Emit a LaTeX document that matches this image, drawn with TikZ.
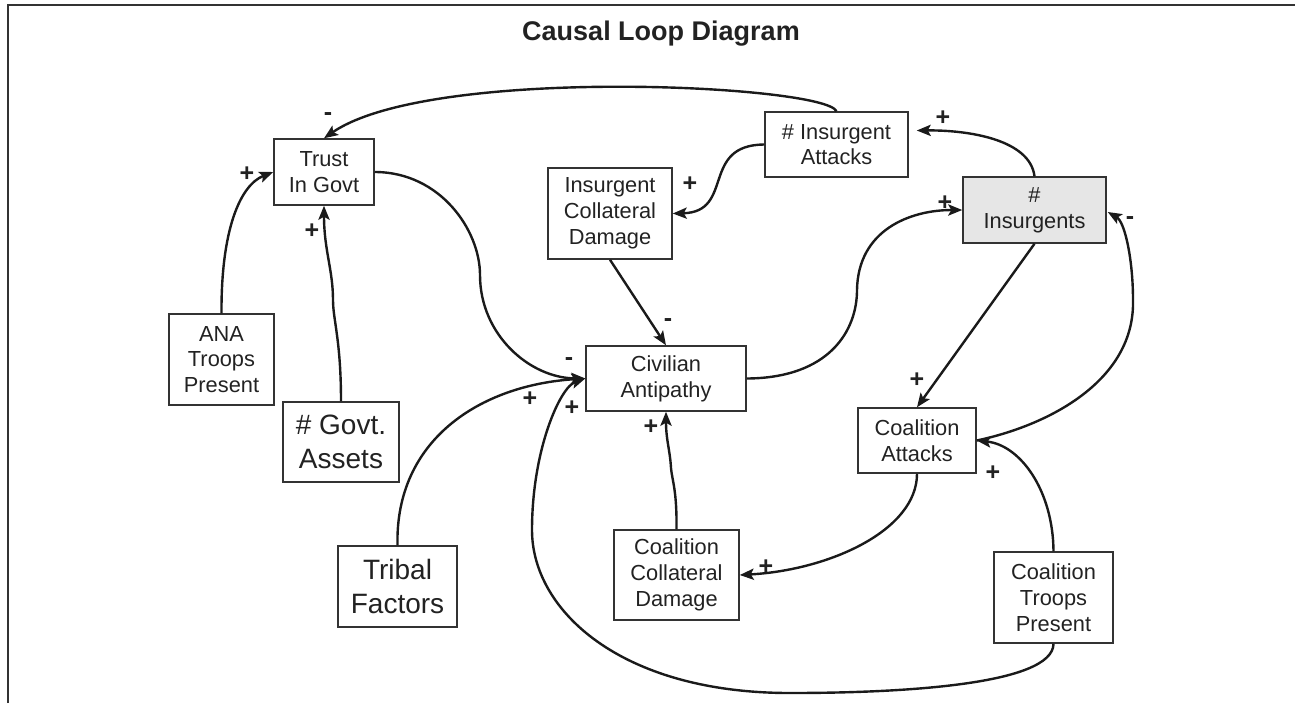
\documentclass[tikz,border=0pt]{standalone}
\usepackage{fontspec}
\setmainfont{Liberation Sans}
\usetikzlibrary{arrows.meta}
\definecolor{linec}{HTML}{1A1A1A}
\definecolor{boxc}{HTML}{333333}
\definecolor{txt}{HTML}{222222}
\definecolor{insfill}{HTML}{E6E6E6}
\tikzset{
  box/.style={draw=boxc, line width=0.75pt, rectangle, inner sep=0pt, align=center,
    font=\fontsize{10.9}{12.9}\selectfont, text=txt},
  bigbox/.style={box, font=\fontsize{14}{16.8}\selectfont},
  arr/.style={line width=1.2pt, draw=linec, -{Stealth[length=7pt,width=5.6pt,inset=1.5pt]}},
  pol/.style={font=\fontsize{12.5}{12.5}\selectfont\bfseries, text=txt, inner sep=0pt},
  frame/.style={draw=boxc, line width=1pt}
}
\begin{document}
\begin{tikzpicture}[x=0.5pt,y=-0.5pt]
\useasboundingbox (0,0) rectangle (1295,703);
% frame
\coordinate (fb) at (8,703);
\coordinate (ftl) at (8,5);
\coordinate (fr) at (1295,5);
\draw[frame] (fb) -- (ftl) -- (fr);
% title
\node[font=\fontsize{13.5}{16}\selectfont\bfseries, text=txt] (title) at (661,34) {Causal Loop Diagram};
% nodes
\node[box, minimum width=50pt, minimum height=33pt] (trust) at (324,172) {Trust\\In Govt};
\node[box, minimum width=52.5pt, minimum height=45.5pt] (ana) at (221.5,359.5) {ANA\\Troops\\Present};
\node[bigbox, minimum width=58pt, minimum height=40pt] (gov) at (341,442) {\# Govt.\\Assets};
\node[box, minimum width=62pt, minimum height=45.5pt] (icd) at (610,213.5) {Insurgent\\Collateral\\Damage};
\node[box, minimum width=71.5pt, minimum height=32.5pt] (ia) at (836.5,144.5) {\# Insurgent\\Attacks};
\node[box, minimum width=80pt, minimum height=32.5pt] (ca) at (666,378.5) {Civilian\\Antipathy};
\node[box, fill=insfill, minimum width=71.5pt, minimum height=33pt] (ins) at (1034.5,210) {\#\\Insurgents};
\node[box, minimum width=59pt, minimum height=32.5pt] (coa) at (917,440.5) {Coalition\\Attacks};
\node[bigbox, minimum width=59.5pt, minimum height=40.5pt] (trib) at (397.5,586.5) {Tribal\\Factors};
\node[box, minimum width=62.5pt, minimum height=45pt] (ccd) at (676.5,575) {Coalition\\Collateral\\Damage};
\node[box, minimum width=59.5pt, minimum height=45.5pt] (ctp) at (1053.5,597.5) {Coalition\\Troops\\Present};
% connectors
\draw[arr] (ia.north) .. controls (825,85) and (430,65) .. (trust.north);
\draw[arr] (ana.north) .. controls (221,230) and (240,185) .. (trust.west);
\draw[arr] (gov.north) .. controls (341,340) and (333,320) .. (333,300) .. controls (333,270) and (324,250) .. (trust.south);
\draw[arr] (ia.west) .. controls (700,145) and (735,212) .. (icd.east);
\draw[arr] (icd.south) -- (ca.north);
\draw[arr] (trust.east) .. controls (440,172) and (480,230) .. (480,275) .. controls (480,335) and (530,378) .. (ca.west);
\draw[arr] (trib.north) .. controls (395,440) and (480,385) .. (ca.west);
\draw[arr] (ctp.south) .. controls (1053,685) and (900,693) .. (790,693) .. controls (620,693) and (532,610) .. (532,530) .. controls (532,450) and (560,387) .. (ca.west);
\draw[arr] (ccd.north) .. controls (677,490) and (672,480) .. (671,468) .. controls (670,450) and (666,440) .. (ca.south);
\draw[arr] (ca.east) .. controls (830,378) and (857,330) .. (857,290) .. controls (858,230) and (910,210) .. (ins.west);
\draw[arr] (ins.north) .. controls (1030,140) and (970,130) .. ([shift={(8,-14)}]ia.east);
\draw[arr] (ins.south) -- (coa.north);
\draw[arr] (coa.east) .. controls (1050,425) and (1135,380) .. (1133,300) .. controls (1133,260) and (1125,222) .. ([shift={(1,2)}]ins.east);
\draw[arr] (ctp.north) .. controls (1053,490) and (1020,445) .. (coa.east);
\draw[arr] (coa.south) .. controls (917,530) and (830,570) .. (ccd.east);
% polarity labels
\node[pol] (p1) at (328,117) {-};
\node[pol] (p2) at (247,174) {+};
\node[pol] (p3) at (312,231) {+};
\node[pol] (p4) at (690,184) {+};
\node[pol] (p5) at (668,323) {-};
\node[pol] (p6) at (569,362) {-};
\node[pol] (p7) at (530,399) {+};
\node[pol] (p8) at (572,408) {+};
\node[pol] (p9) at (651,427) {+};
\node[pol] (p10) at (945,203) {+};
\node[pol] (p11) at (943,118) {+};
\node[pol] (p12) at (917,380) {+};
\node[pol] (p13) at (1130,221) {-};
\node[pol] (p14) at (993,473) {+};
\node[pol] (p15) at (766,567) {+};
\end{tikzpicture}
\end{document}
